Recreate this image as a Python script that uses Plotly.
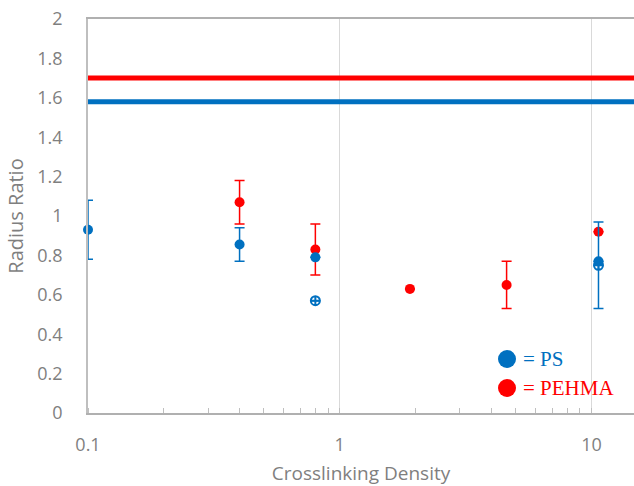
import plotly.graph_objects as go
import math

# Data
ps_x = [0.1, 0.4, 0.8, 10.66]
ps_y = [0.93, 0.855, 0.79, 0.77]
ps_err = [0.15, 0.085, 0.0, 0.0]

ps_open_x = [0.8, 10.66]
ps_open_y = [0.57, 0.75]
ps_open_err = [0.0, 0.22]

pehma_x = [0.4, 0.8, 1.9, 4.6, 10.66]
pehma_y = [1.07, 0.83, 0.63, 0.65, 0.92]
pehma_err = [0.11, 0.13, 0.0, 0.12, 0.0]

ps_ref = 1.58
pehma_ref = 1.70

x_ticks = [0.1, 1, 10]
x_tick_labels = ["0.1", "1", "10"]
y_ticks = [0, 0.2, 0.4, 0.6, 0.8, 1.0, 1.2, 1.4, 1.6, 1.8, 2.0]
y_tick_labels = ["0", "0.2", "0.4", "0.6", "0.8", "1", "1.2", "1.4", "1.6", "1.8", "2"]

BLUE = "#0070C0"
RED = "#FF0000"
GRAY_TXT = "#7F7F7F"

x_min, x_max = 0.1, 14.75

fig = go.Figure()

# reference lines
fig.add_trace(go.Scatter(x=[x_min, x_max], y=[pehma_ref, pehma_ref], mode="lines",
                         line=dict(color=RED, width=5), showlegend=False, hoverinfo="skip"))
fig.add_trace(go.Scatter(x=[x_min, x_max], y=[ps_ref, ps_ref], mode="lines",
                         line=dict(color=BLUE, width=5), showlegend=False, hoverinfo="skip"))

fig.add_trace(go.Scatter(x=pehma_x, y=pehma_y, mode="markers",
                         marker=dict(color=RED, size=10),
                         error_y=dict(type="data", array=pehma_err, color=RED, thickness=1.5, width=5),
                         showlegend=False, cliponaxis=False))
fig.add_trace(go.Scatter(x=ps_open_x, y=ps_open_y, mode="markers",
                         marker=dict(color=BLUE, size=9, symbol="circle-cross-open", line=dict(width=2)),
                         error_y=dict(type="data", array=ps_open_err, color=BLUE, thickness=1.5, width=5),
                         showlegend=False, cliponaxis=False))
fig.add_trace(go.Scatter(x=ps_x, y=ps_y, mode="markers",
                         marker=dict(color=BLUE, size=10),
                         error_y=dict(type="data", array=ps_err, color=BLUE, thickness=1.5, width=5),
                         showlegend=False, cliponaxis=False))

# legend markers and text
PW = 546.0  # plot width in px
PH = 394.0  # plot height in px
leg_x = (507 - 88) / PW
txt_x = (521 - 88) / PW
legend_items = [("= PS", BLUE, (413 - 359) / PH), ("= PEHMA", RED, (413 - 388) / PH)]
for label, col, yy in legend_items:
    fig.add_shape(type="circle", xref="paper", yref="paper",
                  xsizemode="pixel", ysizemode="pixel",
                  xanchor=leg_x, yanchor=yy, x0=-9, x1=9, y0=-9, y1=9,
                  fillcolor=col, line=dict(color=col, width=0))
    fig.add_annotation(x=txt_x, y=yy, xref="paper", yref="paper", text=label,
                       showarrow=False, xanchor="left", yanchor="middle",
                       font=dict(family="Liberation Serif", size=21, color=col))

fig.update_layout(
    width=634, height=486,
    margin=dict(l=88, r=0, t=19, b=73),
    paper_bgcolor="white", plot_bgcolor="white",
    font=dict(family="Open Sans", color=GRAY_TXT, size=16),
    xaxis=dict(type="log", range=[math.log10(x_min), math.log10(x_max)],
               tickvals=x_ticks, ticktext=x_tick_labels, automargin=False,
               showgrid=True, gridcolor="#D9D9D9", gridwidth=1,
               showline=True, mirror=True, linecolor="#B0B0B0", linewidth=1.5,
               ticks="", ticklabelstandoff=15,
               minor=dict(ticks="inside", ticklen=5, tickcolor="#BFBFBF", showgrid=False, dtick="D1"),
               tickfont=dict(size=18, color=GRAY_TXT),
               title=dict(text="Crosslinking Density", font=dict(size=19, color=GRAY_TXT), standoff=14),
               zeroline=False),
    yaxis=dict(range=[0, 2], tickvals=y_ticks, ticktext=y_tick_labels, automargin=False,
               showgrid=False, showline=True, linecolor="#BFBFBF", linewidth=1.5,
               ticks="", ticklabelstandoff=20,
               tickfont=dict(size=18, color=GRAY_TXT),
               title=dict(text="Radius Ratio", font=dict(size=20, color=GRAY_TXT), standoff=8),
               zeroline=False),
)

fig.write_html("out.html", config={"displayModeBar": False},
               post_script="document.body.style.margin='0';document.body.style.overflow='hidden';")
